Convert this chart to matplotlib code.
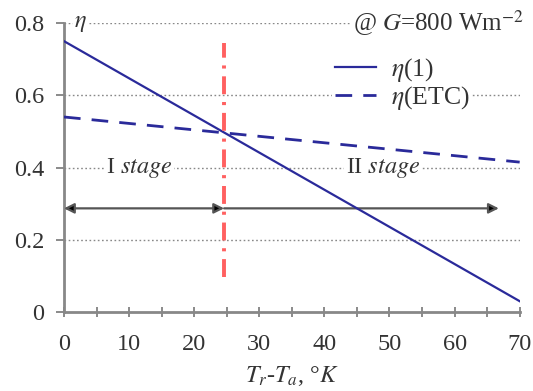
import matplotlib
matplotlib.use("Agg")
import matplotlib.pyplot as plt

plt.rcParams['font.family'] = ['Liberation Serif', 'DejaVu Serif']
plt.rcParams['mathtext.fontset'] = 'stix'

x_vals = [0, 70]
eta1 = [0.75, 0.03]
eta_etc = [0.54, 0.415]
x_stage = 24.6
xticks = [0, 10, 20, 30, 40, 50, 60, 70]
yticks = [0, 0.2, 0.4, 0.6, 0.8]
ytick_labels = ['0', '0.2', '0.4', '0.6', '0.8']

FS = 17.5
txt = '#333333'

fig = plt.figure(figsize=(5.33, 3.91), dpi=100)
ax = fig.add_axes([0.12, 0.202, 0.855, 0.739])
ax.set_xlim(0, 70)
ax.set_ylim(0, 0.8)

navy = '#2a2a9a'
for yv in yticks[1:]:
    ax.axhline(yv, color='#888888', lw=1.0, ls=(0, (1.2, 1.8)), zorder=1)

ax.plot(x_vals, eta1, color=navy, lw=1.6, zorder=4, label=r'$\eta$(1)')
ax.plot(x_vals, eta_etc, color=navy, lw=2.0, ls=(0, (6, 4)), zorder=4, label=r'$\eta$(ETC)')

ax.plot([x_stage, x_stage], [0.097, 0.745], color='#ff6060', lw=2.8,
        ls=(0, (4.6, 2.0, 0.8, 2.0)), zorder=5)

ax.annotate('', xy=(0, 0.287), xytext=(x_stage, 0.287),
            arrowprops=dict(arrowstyle='<|-|>', lw=1.6,
                            mutation_scale=15, shrinkA=0, shrinkB=0,
                            ec='#555555', fc='black'), zorder=3)
ax.annotate('', xy=(66.8, 0.287), xytext=(x_stage, 0.287),
            arrowprops=dict(arrowstyle='-|>', lw=1.6,
                            mutation_scale=15, shrinkA=0, shrinkB=0,
                            ec='#555555', fc='black'), zorder=3)

bbox = dict(facecolor='white', edgecolor='none', pad=1)
ax.text(11.6, 0.4, r'I $\mathit{stage}$', fontsize=FS, ha='center', va='center',
        color=txt, bbox=bbox, zorder=3)
ax.text(49.0, 0.4, r'II $\mathit{stage}$', fontsize=FS, ha='center', va='center',
        color=txt, bbox=bbox, zorder=3)
ax.text(1.6, 0.8, r'$\eta$', fontsize=FS, ha='left', va='center',
        color=txt, bbox=bbox, zorder=3)
ax.text(70.6, 0.8, r'@ $G$=800 Wm$^{-2}$', fontsize=18, ha='right', va='center',
        color=txt, bbox=bbox, zorder=3)

leg = ax.legend(loc='upper left', bbox_to_anchor=(0.56, 0.94), frameon=True,
                fontsize=18.5, handlelength=1.6, borderpad=0.1, labelspacing=0.0,
                handletextpad=0.6)
leg.get_frame().set_edgecolor('none')
leg.get_frame().set_facecolor('white')
leg.get_frame().set_alpha(1)
for t in leg.get_texts():
    t.set_color(txt)

for s in ['top', 'right']:
    ax.spines[s].set_visible(False)
for s in ['left', 'bottom']:
    ax.spines[s].set_color('#888888')
    ax.spines[s].set_linewidth(2)

ax.set_xticks(xticks)
ax.set_xticks(range(5, 70, 10), minor=True)
ax.set_yticks(yticks)
ax.set_yticklabels(ytick_labels)
ax.tick_params(axis='x', which='both', direction='inout', length=7, width=1.2,
               color='#777777', labelsize=FS, labelcolor=txt, pad=12)
ax.tick_params(axis='y', direction='out', length=6, width=1.2, color='#777777',
               labelsize=FS, labelcolor=txt, pad=8)
ax.set_xlabel(r'$T_r$-$T_a$, °$K$', fontsize=FS, color=txt, labelpad=7)

fig.savefig('out.png', dpi=100)
